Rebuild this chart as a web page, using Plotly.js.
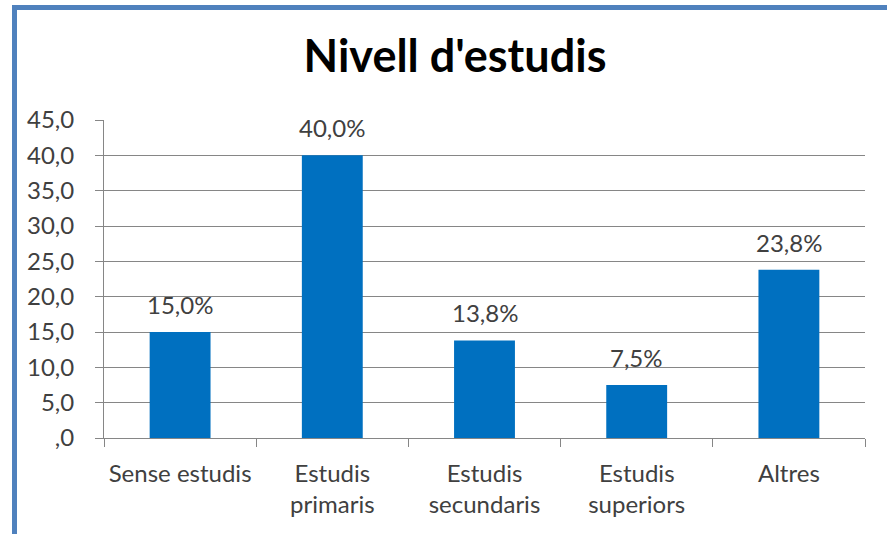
<!DOCTYPE html>
<html>
<head>
<meta charset="utf-8">
<script src="https://cdn.plot.ly/plotly-3.0.1.min.js"></script>
<style>
  html, body { margin: 0; padding: 0; background: #ffffff; overflow: hidden; }
  #chart { width: 887px; height: 534px; position: relative; }
  #frame { position: absolute; left: 12px; top: 5px; width: 900px; height: 600px;
           border-left: 5px solid #4F81BD; border-top: 5px solid #4F81BD; pointer-events: none; z-index: 10; }
</style>
</head>
<body>
<div id="chart"></div>
<div id="frame"></div>
<script>
const categories = ["Sense estudis", "Estudis<br>primaris", "Estudis<br>secundaris", "Estudis<br>superiors", "Altres"];
const values = [15.0, 40.0, 13.8, 7.5, 23.8];
const valueLabels = ["15,0%", "40,0%", "13,8%", "7,5%", "23,8%"];
const yTickVals = [0, 5, 10, 15, 20, 25, 30, 35, 40, 45];
const yTickText = [",0", "5,0", "10,0", "15,0", "20,0", "25,0", "30,0", "35,0", "40,0", "45,0"];
const chartTitle = "Nivell d'estudis";

const FONT = "Lato, 'Open Sans', sans-serif";

const trace = {
  type: "bar",
  x: categories,
  y: values,
  marker: { color: "#0070C0" },
  hoverinfo: "none"
};

const annotations = categories.map((c, i) => ({
  x: c, y: values[i], xref: "x", yref: "y",
  text: valueLabels[i], showarrow: false,
  yanchor: "bottom", yshift: 11,
  font: { family: FONT, size: 24, color: "#404040" }
}));

const layout = {
  width: 887, height: 534,
  margin: { l: 104, r: 22, t: 120, b: 96 },
  paper_bgcolor: "#ffffff", plot_bgcolor: "#ffffff",
  font: { family: FONT, size: 24, color: "#404040" },
  showlegend: false,
  bargap: 0.6,
  title: {
    text: "<b>" + chartTitle + "</b>",
    font: { family: FONT, size: 45, color: "#000000" },
    xref: "container", x: 455 / 887, xanchor: "center",
    yref: "container", y: 1 - 40 / 534, yanchor: "top"
  },
  xaxis: {
    type: "category",
    showline: true, linecolor: "#868686", linewidth: 1,
    ticks: "outside", tickson: "boundaries", ticklen: 8, tickcolor: "#868686",
    showgrid: false,
    tickfont: { family: FONT, size: 24, color: "#404040" },
    ticklabelstandoff: 14
  },
  yaxis: {
    range: [0, 45],
    tickvals: yTickVals, ticktext: yTickText,
    showline: true, linecolor: "#868686", linewidth: 1,
    ticks: "outside", ticklen: 8, tickcolor: "#868686",
    showgrid: true, gridcolor: "#868686", gridwidth: 1,
    zeroline: false,
    tickfont: { family: FONT, size: 24, color: "#404040" },
    ticklabelstandoff: 16
  },
  annotations: annotations
};

Plotly.newPlot("chart", [trace], layout, { displayModeBar: false, staticPlot: true });
</script>
</body>
</html>
